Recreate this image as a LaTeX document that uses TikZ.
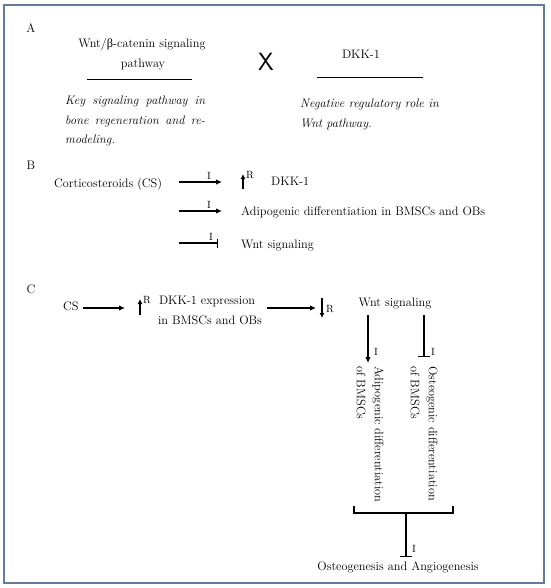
\documentclass[tikz,border=0pt]{standalone}
\usepackage{fontspec}
\newfontfamily\grk{Liberation Serif}
\usetikzlibrary{arrows.meta}
\definecolor{frameblue}{RGB}{96,124,158}
\tikzset{
  txt/.style={font=\fontsize{12.3}{14}\selectfont, inner sep=0pt},
  itxt/.style={font=\fontsize{12.3}{14}\selectfont\itshape, inner sep=0pt},
  lbl/.style={font=\fontsize{10.5}{12}\selectfont, inner sep=0pt},
  conn/.style={line width=1.1pt, -{Latex[length=6pt,width=5.5pt]}},
  smallup/.style={line width=1.1pt, -{Latex[length=5pt,width=5pt]}},
  inh/.style={line width=1.1pt, -{Bar[width=9pt,line width=1.1pt]}},
  inhC/.style={line width=1.1pt, -{Bar[width=12pt,line width=1.1pt]}},
  plain/.style={line width=1.1pt},
  rot/.style={txt, rotate=-90, anchor=mid west},
}
\begin{document}
\begin{tikzpicture}[x=1pt,y=-1pt]
\useasboundingbox (0,0) rectangle (550,588);
\draw[frameblue, line width=1.5pt] (4,5) rectangle (544,583);

% ---- A ----
\node[txt, anchor=mid] (A) at (31,30) {A};
\node[txt, anchor=mid] (wnt1) at (142,45) {Wnt/{\grk β}-catenin signaling};
\node[txt, anchor=mid] (wnt2) at (143,65) {pathway};
\coordinate (l1a) at (87,80); \coordinate (l1b) at (192,80);
\draw[line width=1pt] (l1a) -- (l1b);
\node[font=\fontsize{25}{25}\selectfont\sffamily, inner sep=0pt] (X) at (266,62) {X};
\node[txt] (dkkA) at (361,54) {DKK-1};
\coordinate (l2a) at (317,78); \coordinate (l2b) at (423,78);
\draw[line width=1pt] (l2a) -- (l2b);
\node[itxt, anchor=mid west] (k1) at (65,102) {\makebox[140pt][s]{Key signaling pathway in}};
\node[itxt, anchor=mid west] (k2) at (65,122) {\makebox[140pt][s]{bone regeneration and re-}};
\node[itxt, anchor=mid west] (k3) at (65,141) {modeling.};
\node[itxt, anchor=mid west] (n1) at (300,105) {Negative regulatory role in};
\node[itxt, anchor=mid west] (n2) at (300,125) {Wnt pathway.};

% ---- B ----
\node[txt, anchor=mid] (B) at (31,167) {B};
\node[txt, anchor=mid west] (cs) at (54,185) {Corticosteroids (CS)};
\coordinate (b1s) at (179,182); \coordinate (b1e) at (222,182);
\draw[conn] (b1s) -- (b1e) node[lbl, pos=0.7, above=2pt] (bi1) {I};
\coordinate (bu1) at (243,189); \coordinate (bu2) at (243,174);
\draw[smallup] (bu1) -- (bu2);
\node[lbl, anchor=west] (bR) at (246,175) {R};
\node[txt, anchor=west] (dkkB) at (271,181) {DKK-1};
\coordinate (b2s) at (179,211); \coordinate (b2e) at (222,211);
\draw[conn] (b2s) -- (b2e) node[lbl, pos=0.7, above=2pt] (bi2) {I};
\node[txt, anchor=mid west] (adipo) at (241,213) {Adipogenic differentiation in BMSCs and OBs};
\coordinate (b3s) at (179,243); \coordinate (b3e) at (218,243);
\draw[inh] (b3s) -- (b3e) node[lbl, pos=0.82, above=2pt] (bi3) {I};
\node[txt, anchor=mid west] (wntB) at (241,246) {Wnt signaling};

% ---- C ----
\node[txt, anchor=mid] (C) at (31,291) {C};
\node[txt, anchor=mid west] (csC) at (63,308) {CS};
\coordinate (c1s) at (83,308); \coordinate (c1e) at (125,308);
\draw[conn] (c1s) -- (c1e);
\coordinate (cu1) at (140,315); \coordinate (cu2) at (140,299);
\draw[smallup] (cu1) -- (cu2);
\node[lbl, anchor=west] (cR1) at (143,300) {R};
\node[txt, anchor=mid] (dkkC1) at (207,302) {DKK-1 expression};
\node[txt, anchor=mid] (dkkC2) at (210,322) {in BMSCs and OBs};
\coordinate (c2s) at (267,308); \coordinate (c2e) at (316,308);
\draw[conn] (c2s) -- (c2e);
\coordinate (cd1) at (322,298); \coordinate (cd2) at (322,318);
\draw[smallup] (cd1) -- (cd2);
\node[lbl, anchor=west] (cR2) at (326,309) {R};
\node[txt, anchor=mid] (wntC) at (395,304) {Wnt signaling};
\coordinate (v1s) at (368,315); \coordinate (v1e) at (368,363);
\draw[conn] (v1s) -- (v1e);
\node[lbl] (vi1) at (376,352) {I};
\coordinate (v2s) at (424,315); \coordinate (v2e) at (424,357);
\draw[inhC] (v2s) -- (v2e);
\node[lbl] (vi2) at (433,352) {I};
\node[rot] (ad1) at (377,366) {Adipogenic differentiation};
\node[rot] (ad2) at (359,366) {of BMSCs};
\node[rot] (os1) at (431,366) {Osteogenic differentiation};
\node[rot] (os2) at (413,366) {of BMSCs};
\coordinate (br1) at (354,506); \coordinate (br2) at (354,513);
\coordinate (br3) at (453,513); \coordinate (br4) at (453,506);
\draw[plain] (br1) -- (br2) -- (br3) -- (br4);
\coordinate (bm) at (406,513); \coordinate (be) at (406,557);
\draw[inhC] (bm) -- (be);
\node[lbl] (bi) at (414,549) {I};
\node[txt, anchor=mid] (osteo) at (398,568) {Osteogenesis and Angiogenesis};
\end{tikzpicture}
\end{document}
